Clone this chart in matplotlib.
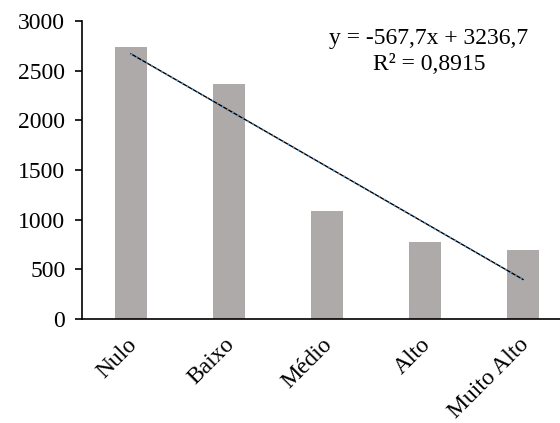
import matplotlib.pyplot as plt
import matplotlib.transforms as mtransforms
import numpy as np

plt.rcParams['font.family'] = ['Liberation Serif', 'DejaVu Serif']

categorias = ["Nulo", "Baixo", "Médio", "Alto", "Muito Alto"]
valores = [2740, 2365, 1090, 778, 695]
inclinacao = -567.7
intercepto = 3236.7
r2 = 0.8915

W, H = 560, 423
fig = plt.figure(figsize=(W / 100, H / 100), dpi=100)
ax = fig.add_axes([82 / W, 1 - 319 / H, (572 - 82) / W, 298 / H])

x = np.arange(1, len(categorias) + 1)
ax.bar(x, valores, width=0.32, color="#AEAAAA", zorder=1)

# linha de tendência linear
xt = np.array([x[0], x[-1]])
yt = inclinacao * xt + intercepto
ax.plot(xt, yt, color="black", lw=1.0, zorder=2)
ax.plot(xt, yt, color="#5B9BD5", lw=1.2, ls=(0, (1, 2.5)), zorder=3)

ax.set_xlim(0.5, 5.5)
ax.set_ylim(0, 3000)
ax.set_yticks(range(0, 3001, 500))
ax.set_xticks(x)
ax.set_xticklabels(categorias, rotation=45, ha="right", va="top",
                   rotation_mode="anchor")
ax.tick_params(axis="x", length=0, labelsize=17, pad=11)
ax.tick_params(axis="y", direction="out", length=5, width=1.2, labelsize=17, pad=7)
desloc = mtransforms.ScaledTranslation(-5 / 100, 0, fig.dpi_scale_trans)
for lbl in ax.get_xticklabels():
    lbl.set_transform(lbl.get_transform() + desloc)
for s in ["top", "right"]:
    ax.spines[s].set_visible(False)
ax.spines["left"].set_linewidth(1.2)
ax.spines["bottom"].set_linewidth(1.2)

eq = "y = {:.1f}x + {:.1f}".format(inclinacao, intercepto).replace(".", ",")
r2txt = "R² = {:.4f}".format(r2).replace(".", ",")
fig.text(429 / W, 1 - 44 / H, eq, ha="center", va="baseline", fontsize=17)
fig.text(429 / W, 1 - 70 / H, r2txt, ha="center", va="baseline", fontsize=17)

fig.savefig("out.png", dpi=100)
